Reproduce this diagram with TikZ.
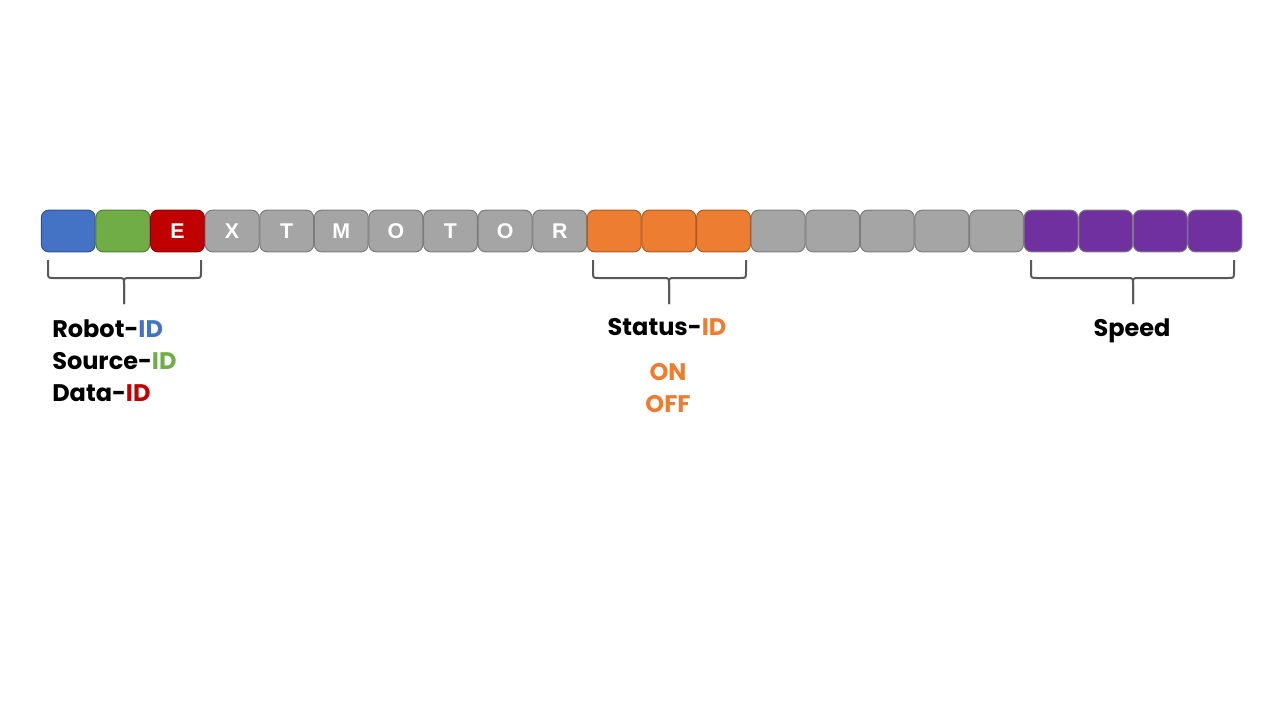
\documentclass[tikz,border=0pt]{standalone}
\usepackage{fontspec}
\newfontfamily\pop{Poppins}
\newfontfamily\lib{Liberation Sans}
\definecolor{cblue}{HTML}{4472C4}
\definecolor{cbluel}{HTML}{2F528F}
\definecolor{cgreen}{HTML}{70AD47}
\definecolor{cgreenl}{HTML}{507E32}
\definecolor{cred}{HTML}{C00000}
\definecolor{credl}{HTML}{8C0000}
\definecolor{cgray}{HTML}{A5A5A5}
\definecolor{cgrayl}{HTML}{7C7C7C}
\definecolor{corange}{HTML}{ED7D31}
\definecolor{corangel}{HTML}{AE5A21}
\definecolor{cpurple}{HTML}{7030A0}
\definecolor{cbrace}{HTML}{595959}
\begin{document}
\begin{tikzpicture}[x=0.75pt,y=-0.75pt,
  cell/.style={draw=cgrayl,fill=cgray,line width=0.75pt,rounded corners=5.5pt,
    minimum width=40.4pt,minimum height=31.3pt,inner sep=0pt,
    text=white,font=\lib\bfseries\fontsize{16}{18}\selectfont},
  lbl/.style={font=\pop\bfseries\fontsize{18}{22}\selectfont,inner sep=0pt,text=black},
  bracestyle/.style={draw=cbrace,line width=1.5pt}]
\useasboundingbox (0,0) rectangle (1280,720);
% cells
\foreach \i/\fc/\dc/\t in {1/cblue/cbluel/{},2/cgreen/cgreenl/{},3/cred/credl/E,
  4/cgray/cgrayl/X,5/cgray/cgrayl/T,6/cgray/cgrayl/M,7/cgray/cgrayl/O,8/cgray/cgrayl/T,
  9/cgray/cgrayl/O,10/cgray/cgrayl/R,11/corange/corangel/{},12/corange/corangel/{},
  13/corange/corangel/{},14/cgray/cgrayl/{},15/cgray/cgrayl/{},16/cgray/cgrayl/{},
  17/cgray/cgrayl/{},18/cgray/cgrayl/{},19/cpurple/cgrayl/{},20/cpurple/cgrayl/{},
  21/cpurple/cgrayl/{},22/cpurple/cgrayl/{}}{
  \node[cell,fill=\fc,draw=\dc] (b\i) at ({41+27.3+(\i-1)*54.6},231) {\t};
}
% braces
\foreach \n/\a/\m/\b in {1/48/124/201,2/593/669/746,3/1031/1133/1234}{
  \coordinate (bl\n) at (\a,260);
  \coordinate (br\n) at (\b,260);
  \coordinate (bt\n) at (\m,304);
  \draw[bracestyle,line join=round] (bl\n) -- (\a,272) .. controls (\a,278) .. (\a+6,278)
     -- (\m-6,278) .. controls (\m,278) .. (\m,284) -- (bt\n);
  \draw[bracestyle,line join=round] (br\n) -- (\b,272) .. controls (\b,278) .. (\b-6,278)
     -- (\m+6,278) .. controls (\m,278) .. (\m,284) -- (bt\n);
}
% labels
\node[lbl,anchor=west] (robot) at (52,329) {Robot-\textcolor{cblue}{ID}};
\node[lbl,anchor=west] (source) at (52,361) {Source-\textcolor{cgreen}{ID}};
\node[lbl,anchor=west] (data) at (52,393) {Data-\textcolor{cred}{ID}};
\node[lbl] (status) at (667,327) {Status-\textcolor{corange}{ID}};
\node[lbl,text=corange] (on) at (668,372) {ON};
\node[lbl,text=corange] (off) at (668,404) {OFF};
\node[lbl] (speed) at (1132,331) {Speed};
\end{tikzpicture}
\end{document}
